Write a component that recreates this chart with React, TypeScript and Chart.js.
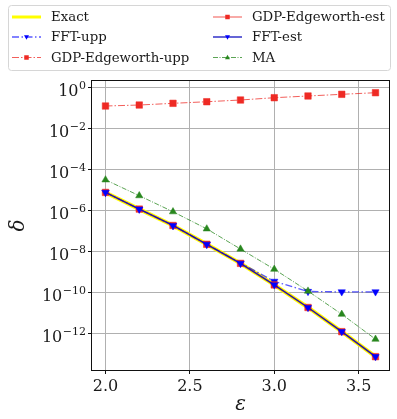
import React, { useEffect, useRef } from "react";
import { Chart, registerables } from "chart.js";

Chart.register(...registerables);

// ---- data ----
const epsilons = [2.0, 2.2, 2.4, 2.6, 2.8, 3.0, 3.2, 3.4, 3.6];
const exactVals = [7.8e-6, 1.2e-6, 1.9e-7, 2.3e-8, 2.7e-9, 2.4e-10, 1.9e-11, 1.26e-12, 7.6e-14];
const fftUppVals = [7.8e-6, 1.2e-6, 1.9e-7, 2.3e-8, 2.8e-9, 3.6e-10, 1.15e-10, 1.1e-10, 1.1e-10];
const gdpUppVals = [0.128, 0.143, 0.173, 0.207, 0.251, 0.325, 0.394, 0.476, 0.57];
const gdpEstVals = [7.8e-6, 1.2e-6, 1.9e-7, 2.3e-8, 2.7e-9, 2.4e-10, 1.9e-11, 1.26e-12, 7.6e-14];
const fftEstVals = [7.8e-6, 1.2e-6, 1.9e-7, 2.3e-8, 2.7e-9, 2.4e-10, 1.9e-11, 1.26e-12, 7.6e-14];
const maVals = [3.2e-5, 5.4e-6, 8.9e-7, 1.3e-7, 1.35e-8, 1.4e-9, 1.2e-10, 8.9e-12, 5.4e-13];

const seriesNames = ["Exact", "FFT-upp", "GDP-Edgeworth-upp", "GDP-Edgeworth-est", "FFT-est", "MA"];
const xTicks = [2.0, 2.5, 3.0, 3.5];
const yTickExps = [0, -2, -4, -6, -8, -10, -12];
const xLabel = "ε";
const yLabel = "δ";

const FONT = "'DejaVu Serif', serif";
const RED = "rgb(238,42,36)";
const BLUE = "rgb(0,0,255)";
const GREEN = "rgb(40,135,30)";

type Style = {
  line: string;
  width: number;
  dash: number[];
  marker: "none" | "rect" | "tri" | "triDown";
  mcolor: string;
  r: number;
  order: number;
};

const styles: Style[] = [
  { line: "rgb(255,255,0)", width: 4, dash: [], marker: "none", mcolor: "", r: 0, order: 6 },
  { line: "rgba(0,0,255,0.65)", width: 1.3, dash: [7, 2.5, 1.5, 2.5], marker: "triDown", mcolor: BLUE, r: 4.2, order: 5 },
  { line: "rgba(238,42,36,0.75)", width: 1, dash: [7, 2, 1.5, 2], marker: "rect", mcolor: RED, r: 4.6, order: 4 },
  { line: "rgba(238,42,36,0.4)", width: 2, dash: [], marker: "rect", mcolor: RED, r: 4.6, order: 3 },
  { line: "rgba(10,10,190,0.9)", width: 1.4, dash: [], marker: "triDown", mcolor: BLUE, r: 4.2, order: 2 },
  { line: "rgba(40,135,30,0.85)", width: 0.9, dash: [5, 1.5, 1, 1.5], marker: "tri", mcolor: GREEN, r: 4.2, order: 1 },
];

const seriesVals = [exactVals, fftUppVals, gdpUppVals, gdpEstVals, fftEstVals, maVals];

function drawMarker(ctx: CanvasRenderingContext2D, m: Style["marker"], x: number, y: number, s: number, color: string) {
  if (m === "none") return;
  ctx.save();
  ctx.setLineDash([]);
  ctx.fillStyle = color;
  ctx.beginPath();
  if (m === "rect") {
    ctx.rect(x - s / 2, y - s / 2, s, s);
  } else if (m === "tri") {
    ctx.moveTo(x, y - s * 0.6);
    ctx.lineTo(x + s * 0.55, y + s * 0.4);
    ctx.lineTo(x - s * 0.55, y + s * 0.4);
    ctx.closePath();
  } else {
    ctx.moveTo(x, y + s * 0.6);
    ctx.lineTo(x + s * 0.55, y - s * 0.4);
    ctx.lineTo(x - s * 0.55, y - s * 0.4);
    ctx.closePath();
  }
  ctx.fill();
  ctx.restore();
}

const decorPlugin = {
  id: "decor",
  afterDatasetsDraw(chart: any) {
    const ctx: CanvasRenderingContext2D = chart.ctx;
    const { left, right, top, bottom } = chart.chartArea;
    const xs = chart.scales.x;
    const ys = chart.scales.y;
    ctx.save();
    // spines
    ctx.strokeStyle = "#111";
    ctx.lineWidth = 1;
    ctx.setLineDash([]);
    ctx.strokeRect(left - 0.5, top - 0.5, right - left + 1, bottom - top + 1);

    ctx.fillStyle = "#1a1a1a";
    // x tick labels
    ctx.font = `16px ${FONT}`;
    ctx.textAlign = "center";
    ctx.textBaseline = "alphabetic";
    xTicks.forEach((v) => {
      ctx.fillText(v.toFixed(1), xs.getPixelForValue(v), bottom + 21);
    });
    // y tick labels
    yTickExps.forEach((e) => {
      const py = ys.getPixelForValue(Math.pow(10, e));
      const sup = e === 0 ? "0" : "\u2212" + String(-e);
      ctx.font = `11px ${FONT}`;
      const sw = ctx.measureText(sup).width;
      const supX = left - 6 - sw;
      ctx.textAlign = "left";
      ctx.fillText(sup, supX, py + 1.5);
      ctx.font = `16px ${FONT}`;
      ctx.textAlign = "right";
      ctx.fillText("10", supX - 0.5, py + 8);
    });
    // axis labels
    ctx.font = `italic 20px ${FONT}`;
    ctx.textAlign = "center";
    ctx.textBaseline = "middle";
    ctx.fillText(xLabel, (left + right) / 2, 405);
    ctx.save();
    ctx.translate(19, (top + bottom) / 2);
    ctx.rotate(-Math.PI / 2);
    ctx.fillText(yLabel, 0, 0);
    ctx.restore();

    // legend
    const lx = 8, ly = 5, lw = 382, lh = 65;
    ctx.fillStyle = "rgba(255,255,255,0.85)";
    ctx.strokeStyle = "#d6d6d6";
    ctx.lineWidth = 1;
    ctx.beginPath();
    (ctx as any).roundRect(lx + 0.5, ly + 0.5, lw, lh, 3);
    ctx.fill();
    ctx.stroke();
    const cols = [{ x1: 12, x2: 41, tx: 51 }, { x1: 213, x2: 242, tx: 252 }];
    const rows = [17, 37, 57.5];
    seriesNames.forEach((name, i) => {
      const c = cols[Math.floor(i / 3)];
      const ry = rows[i % 3];
      const st = styles[i];
      ctx.save();
      ctx.strokeStyle = st.line;
      ctx.lineWidth = i === 0 ? 3 : st.width;
      ctx.setLineDash(st.dash);
      ctx.beginPath();
      ctx.moveTo(c.x1, ry);
      ctx.lineTo(c.x2, ry);
      ctx.stroke();
      ctx.restore();
      drawMarker(ctx, st.marker, (c.x1 + c.x2) / 2, ry, 4.5, st.mcolor);
      ctx.fillStyle = "#1a1a1a";
      ctx.font = `13.3px ${FONT}`;
      ctx.textAlign = "left";
      ctx.textBaseline = "middle";
      ctx.fillText(name, c.tx, ry + 1);
    });
    ctx.restore();
  },
};

export default function App() {
  const ref = useRef<HTMLCanvasElement | null>(null);
  useEffect(() => {
    if (!ref.current) return;
    const datasets = seriesNames.map((name, i) => {
      const st = styles[i];
      const pointStyle = st.marker === "rect" ? "rect" : st.marker === "none" ? "circle" : "triangle";
      return {
        label: name,
        data: epsilons.map((x, k) => ({ x, y: seriesVals[i][k] })),
        borderColor: st.line,
        backgroundColor: st.line,
        borderWidth: st.width,
        borderDash: st.dash,
        pointStyle,
        pointRotation: st.marker === "triDown" ? 180 : 0,
        pointRadius: st.r,
        pointBackgroundColor: st.mcolor || st.line,
        pointBorderColor: st.mcolor || st.line,
        pointBorderWidth: 0.5,
        tension: 0,
        order: st.order,
        fill: false,
      };
    });
    const chart = new Chart(ref.current, {
      type: "line",
      data: { datasets } as any,
      options: {
        responsive: false,
        animation: false,
        layout: { padding: { left: 0, right: 8, top: 81, bottom: 0 } },
        plugins: { legend: { display: false }, tooltip: { enabled: false } },
        scales: {
          x: {
            type: "linear",
            min: 1.92,
            max: 3.68,
            afterBuildTicks: (s: any) => {
              s.ticks = xTicks.map((v) => ({ value: v }));
            },
            afterFit: (s: any) => {
              s.height = 49;
            },
            ticks: { display: false },
            grid: { color: "#b0b0b0", lineWidth: 1, tickColor: "#111", tickLength: 4, drawTicks: true },
            border: { display: false },
          },
          y: {
            type: "logarithmic",
            min: Math.pow(10, -13.77),
            max: Math.pow(10, 0.327),
            afterBuildTicks: (s: any) => {
              s.ticks = yTickExps.map((e) => ({ value: Math.pow(10, e) }));
            },
            afterFit: (s: any) => {
              s.width = 92;
            },
            ticks: { display: false },
            grid: { color: "#b0b0b0", lineWidth: 1, tickColor: "#111", tickLength: 4, drawTicks: true },
            border: { display: false },
          },
        },
      } as any,
      plugins: [decorPlugin],
    });
    return () => chart.destroy();
  }, []);
  return (
    <div style={{ position: "absolute", left: 0, top: 0, width: 397, height: 419, background: "#fff" }}>
      <canvas ref={ref} width={397} height={419} style={{ display: "block" }} />
    </div>
  );
}
